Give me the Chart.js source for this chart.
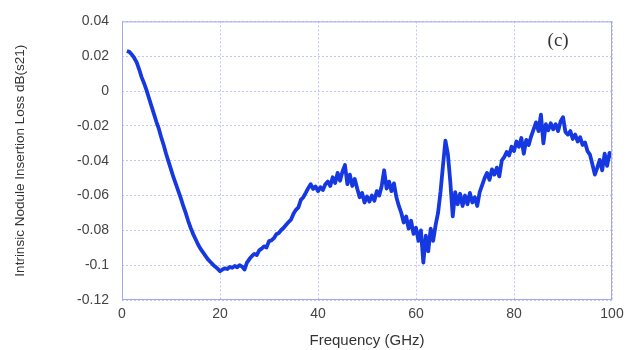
<!DOCTYPE html>
<html lang="en">
<head>
    <meta charset="UTF-8" />
    <title>Intrinsic Nodule Insertion Loss</title>
    <script src="https://cdn.jsdelivr.net/npm/chart.js"></script>
    <style>
        body {
            margin: 0;
            background: #ffffff;
        }
        .wrap {
            width: 641px;
            height: 350px;
        }
    </style>
</head>
<body>
<div class="wrap">
    <canvas id="lossChart" width="641" height="350"></canvas>
</div>
<script>
    // frequency samples (GHz)
    const freq = [
        1, 1.5, 2, 2.5, 3, 3.5, 4, 4.5, 5, 5.5, 6, 6.5, 7, 7.5, 8, 8.5, 9, 9.5, 10, 10.5,
        11, 11.5, 12, 12.5, 13, 13.5, 14, 14.5, 15, 15.5, 16, 16.5, 17, 17.5, 18, 18.5, 19, 19.5, 20, 20.5,
        21, 21.5, 22, 22.5, 23, 23.5, 24, 24.5, 25, 25.5, 26, 26.5, 27, 27.5, 28, 28.5, 29, 29.5, 30, 30.5,
        31, 31.5, 32, 32.5, 33, 33.5, 34, 34.5, 35, 35.5, 36, 36.5, 37, 37.5, 38, 38.5, 39, 39.5, 40, 40.5,
        41, 41.5, 42, 42.5, 43, 43.5, 44, 44.5, 45, 45.5, 46, 46.5, 47, 47.5, 48, 48.5, 49, 49.5, 50, 50.5,
        51, 51.5, 52, 52.5, 53, 53.5, 54, 54.5, 55, 55.5, 56, 56.5, 57, 57.5, 58, 58.5, 59, 59.5, 60, 60.5,
        61, 61.5, 62, 62.5, 63, 63.5, 64, 64.5, 65, 65.5, 66, 66.5, 67, 67.5, 68, 68.5, 69, 69.5, 70, 70.5,
        71, 71.5, 72, 72.5, 73, 73.5, 74, 74.5, 75, 75.5, 76, 76.5, 77, 77.5, 78, 78.5, 79, 79.5, 80, 80.5,
        81, 81.5, 82, 82.5, 83, 83.5, 84, 84.5, 85, 85.5, 86, 86.5, 87, 87.5, 88, 88.5, 89, 89.5, 90, 90.5,
        91, 91.5, 92, 92.5, 93, 93.5, 94, 94.5, 95, 95.5, 96, 96.5, 97, 97.5, 98, 98.5, 99, 99.5, 100
    ];

    // insertion loss dB(s21)
    const loss = [
        0.023, 0.0225, 0.021, 0.019, 0.0165, 0.0125, 0.008, 0.0045, 0.0005, -0.004,
        -0.0085, -0.013, -0.0175, -0.0215, -0.0265, -0.031, -0.036, -0.0405, -0.045, -0.0495,
        -0.0535, -0.0575, -0.0615, -0.066, -0.070, -0.0745, -0.0785, -0.082, -0.085, -0.088,
        -0.0905, -0.0925, -0.0945, -0.0965, -0.098, -0.0995, -0.1008, -0.102, -0.1035, -0.1025,
        -0.1018, -0.1022, -0.1010, -0.1015, -0.1005, -0.1012, -0.1000, -0.1008, -0.1025, -0.0985,
        -0.0965, -0.0948, -0.0935, -0.0942, -0.0915, -0.0905, -0.0892, -0.0898, -0.0862, -0.0858,
        -0.0845, -0.0822, -0.0815, -0.0798, -0.0785, -0.0768, -0.0752, -0.0738, -0.0705, -0.0682,
        -0.0668, -0.0625, -0.0610, -0.0585, -0.0558, -0.0535, -0.0562, -0.0548, -0.0575, -0.0552,
        -0.0568, -0.0535, -0.0520, -0.0545, -0.0495, -0.0528, -0.0470, -0.0515, -0.0462, -0.0425,
        -0.0535, -0.0480, -0.0545, -0.0505, -0.0560, -0.0610, -0.0585, -0.0640, -0.0605, -0.0635,
        -0.0600, -0.0630, -0.0575, -0.0600, -0.0545, -0.0455, -0.0560, -0.0520, -0.0575, -0.0530,
        -0.0610, -0.0660, -0.0700, -0.0755, -0.0720, -0.0790, -0.0745, -0.0820, -0.0785, -0.0860,
        -0.0800, -0.0985, -0.0830, -0.0920, -0.0790, -0.0860, -0.0770, -0.0700, -0.0580, -0.0430,
        -0.0285, -0.0360, -0.0520, -0.0720, -0.0580, -0.0650, -0.0590, -0.0660, -0.0600, -0.0650,
        -0.0585, -0.0640, -0.0610, -0.0660, -0.0580, -0.0540, -0.0500, -0.0470, -0.0510, -0.0450,
        -0.0480, -0.0440, -0.0490, -0.0400, -0.0380, -0.0350, -0.0370, -0.0320, -0.0345, -0.0290,
        -0.0320, -0.0270, -0.0360, -0.0280, -0.0310, -0.0260, -0.0220, -0.0180, -0.0230, -0.0135,
        -0.0300, -0.0190, -0.0225, -0.0185, -0.0220, -0.0190, -0.0230, -0.0175, -0.0150, -0.0235,
        -0.0250, -0.0230, -0.0275, -0.0250, -0.0290, -0.0265, -0.0310, -0.0295, -0.0345, -0.0365,
        -0.0420, -0.0480, -0.0440, -0.0395, -0.0455, -0.0360, -0.0430, -0.0355, -0.0380
    ];

    const xTicks = [0, 20, 40, 60, 80, 100];
    const yTicks = [0.04, 0.02, 0, -0.02, -0.04, -0.06, -0.08, -0.1, -0.12];

    const points = freq.map((f, i) => ({ x: f, y: loss[i] }));

    // frame round the plot area and the "(c)" panel tag
    const framePlugin = {
        id: 'frame',
        afterDraw(chart) {
            const { ctx, chartArea: a, scales } = chart;
            ctx.save();
            ctx.strokeStyle = '#a4a8ea';
            ctx.lineWidth = 1;
            ctx.strokeRect(a.left + 0.5, a.top + 0.5, a.right - a.left - 1, a.bottom - a.top - 1);
            ctx.fillStyle = '#333333';
            ctx.font = '19px "Liberation Serif", serif';
            ctx.textAlign = 'center';
            ctx.textBaseline = 'middle';
            ctx.fillText('(c)', scales.x.getPixelForValue(89), scales.y.getPixelForValue(0.0285));
            ctx.restore();
        }
    };

    const ctx = document.getElementById('lossChart').getContext('2d');
    new Chart(ctx, {
        type: 'line',
        data: {
            datasets: [{
                data: points,
                borderColor: '#1638e0',
                borderWidth: 3.8,
                borderJoinStyle: 'round',
                pointRadius: 0,
                tension: 0,
                fill: false
            }]
        },
        options: {
            responsive: false,
            animation: false,
            layout: {
                padding: { top: 17, right: 29, left: 0, bottom: 0 }
            },
            plugins: {
                legend: { display: false },
                tooltip: { enabled: false }
            },
            scales: {
                x: {
                    type: 'linear',
                    min: 0,
                    max: 100,
                    afterFit(scale) { scale.height = 50; },
                    afterBuildTicks(scale) { scale.ticks = xTicks.map(v => ({ value: v })); },
                    grid: { color: '#c2c5f3', lineWidth: 1, drawTicks: false },
                    border: { display: false, dash: [2, 2] },
                    ticks: {
                        padding: 6,
                        color: '#444444',
                        font: { family: '"Liberation Sans", Arial, sans-serif', size: 14 }
                    },
                    title: {
                        display: true,
                        text: 'Frequency (GHz)',
                        color: '#333333',
                        padding: { top: 0, bottom: 0 },
                        font: { family: '"Liberation Sans", Arial, sans-serif', size: 15 }
                    }
                },
                y: {
                    type: 'linear',
                    min: -0.12,
                    max: 0.04,
                    afterFit(scale) { scale.width = 122; },
                    afterBuildTicks(scale) { scale.ticks = yTicks.map(v => ({ value: v })); },
                    grid: { color: '#c2c5f3', lineWidth: 1, drawTicks: false },
                    border: { display: false, dash: [2, 2] },
                    ticks: {
                        padding: 13,
                        color: '#444444',
                        font: { family: '"Liberation Sans", Arial, sans-serif', size: 14 },
                        callback: v => String(Number(v.toFixed(2)))
                    },
                    title: {
                        display: true,
                        text: 'Intrinsic Nodule Insertion Loss dB(s21)',
                        color: '#333333',
                        padding: { top: 12, bottom: 0 },
                        font: { family: '"Liberation Sans", Arial, sans-serif', size: 13.5 }
                    }
                }
            }
        },
        plugins: [framePlugin]
    });
</script>
</body>
</html>
